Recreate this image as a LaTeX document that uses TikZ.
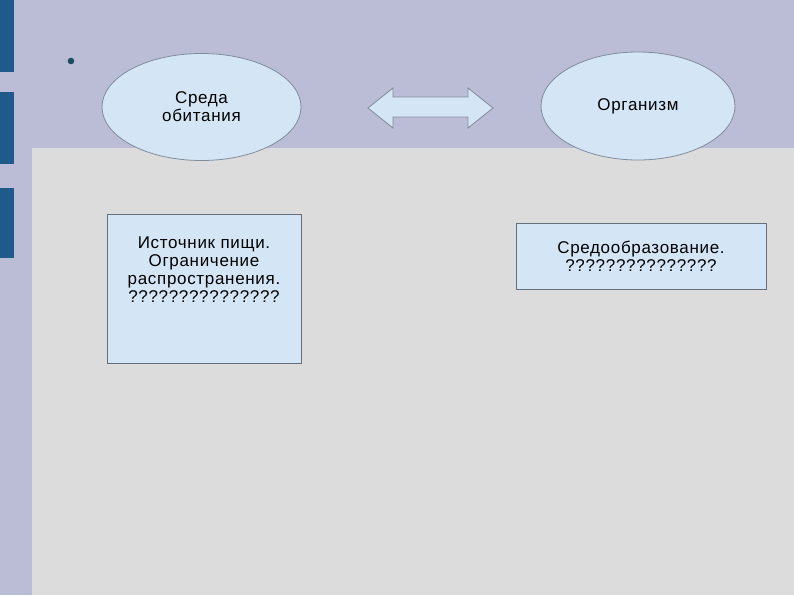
\documentclass[tikz,border=0pt]{standalone}
\usepackage{fontspec}
\setmainfont{Liberation Sans}[LetterSpace=4]
\usetikzlibrary{shapes.geometric}
\definecolor{slidebg}{HTML}{BBBDD6}
\definecolor{panelbg}{HTML}{DCDCDC}
\definecolor{barblue}{HTML}{1F5B8A}
\definecolor{dotteal}{HTML}{1B4F5F}
\definecolor{shapefill}{HTML}{D4E6F6}
\definecolor{shapeline}{HTML}{7F8C9C}
\begin{document}
\begin{tikzpicture}[x=1pt,y=-1pt,
  oval/.style={ellipse,draw=shapeline,fill=shapefill,line width=0.8pt,
    inner sep=0pt,align=center,font=\fontsize{17}{18}\selectfont},
  textbox/.style={rectangle,draw=shapeline!80!black,fill=shapefill,line width=0.8pt,
    inner sep=0pt,align=center,font=\fontsize{17}{18}\selectfont}]
\useasboundingbox (0,0) rectangle (794,595);
% background
\fill[slidebg] (0,0) rectangle (794,595);
\fill[panelbg] (32,148) rectangle (794,595);
\fill[barblue] (0,0) rectangle (14,72);
\fill[barblue] (0,92) rectangle (14,164);
\fill[barblue] (0,188) rectangle (14,258);
\fill[dotteal] (71,61) circle (3.3);
% ovals
\node[oval,minimum width=199pt,minimum height=107pt] (habitat) at (201.5,107)
  {Среда\\обитания};
\node[oval,minimum width=194pt,minimum height=108pt] (organism) at (638,106)
  {Организм};
% double arrow
\draw[shapeline,fill=shapefill,line width=0.8pt] (368,108)
 --(393,88) --(393,97) --(468,97) --(468,88) --(493,108)
 --(468,128) --(468,117) --(393,117) --(393,128) --cycle;
% boxes
\node[textbox,minimum width=194pt,minimum height=149pt] (food) at (204,288.5) {};
\node[align=center,font=\fontsize{17}{18}\selectfont,anchor=north] (foodtext) at (204,233)
  {Источник пищи.\\Ограничение\\распространения.\\???????????????};
\node[textbox,minimum width=250pt,minimum height=66pt] (envform) at (641,256)
  {Средообразование.\\???????????????};
\end{tikzpicture}
\end{document}
